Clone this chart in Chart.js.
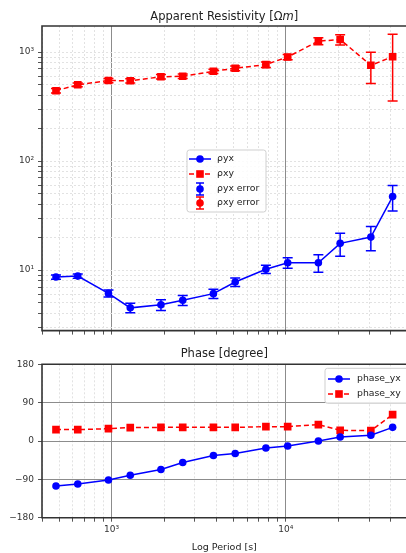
<!DOCTYPE html>
<html>
<head>
<meta charset="utf-8">
<script src="https://cdn.jsdelivr.net/npm/chart.js@4.4.0/dist/chart.umd.min.js"></script>
<style>
html, body { margin: 0; padding: 0; background: #fff; overflow: hidden; }
#wrap { position: relative; width: 406px; height: 553px; overflow: hidden; }
#rhoChart { position: absolute; left: 0; top: 0; }
#phaseChart { position: absolute; left: 0; top: 340px; }
</style>
</head>
<body>
<div id="wrap">
  <canvas id="rhoChart" width="412" height="340"></canvas>
  <canvas id="phaseChart" width="412" height="213"></canvas>
</div>
<script>
/* data */
const periods  = [480, 640, 960, 1280, 1920, 2560, 3840, 5120, 7680, 10240, 15360, 20480, 30720, 40960];
const rhoYx    = [8.64, 8.82, 6.12, 4.51, 4.81, 5.29, 6.09, 7.78, 10.2, 11.7, 11.7, 17.6, 20.1, 47.3];
const rhoYxErr = [0.4, 0.4, 0.45, 0.45, 0.55, 0.55, 0.6, 0.7, 0.9, 1.3, 2.15, 4.2, 5.0, 12.5];
const rhoXy    = [442, 501, 548, 545, 593, 600, 666, 710, 767, 901, 1259, 1302, 756, 906];
const rhoXyErr = [20, 20, 25, 25, 28, 28, 30, 35, 45, 50, 90, 140, 240, 550];
const phaseYx  = [-105.5, -100.8, -91.4, -80.4, -67, -50.6, -34.2, -29.5, -16.4, -11.7, 0, 9.4, 13.4, 32];
const phaseXy  = [26.7, 26.7, 29, 31.4, 32, 32, 32, 32, 33.7, 33.7, 38.4, 25, 24.4, 61.9];
const phaseTicks = [-180, -90, 0, 90, 180];
const rhoLegend = ['ρyx', 'ρxy', 'ρyx error', 'ρxy error'];
const phaseLegend = ['phase_yx', 'phase_xy'];

const X_MIN = 399, X_MAX = 49260;
const RHO_MIN = 2.79, RHO_MAX = 1733;

const FONT = 'DejaVu Sans';
const BLUE = '#0000ff', RED = '#ff0000';
const SUP = {'0':'⁰','1':'¹','2':'²','3':'³','4':'⁴','5':'⁵','6':'⁶','7':'⁷','8':'⁸','9':'⁹','-':'⁻'};

function isDecade(v) {
  const l = Math.log10(v);
  return Math.abs(l - Math.round(l)) < 1e-9;
}
function decadeLabel(v) {
  if (!isDecade(v)) return '';
  return '10' + String(Math.round(Math.log10(v))).split('').map(c => SUP[c]).join('');
}
// 1..9 x 10^n ticks inside the range
function logTicks(min, max) {
  const out = [];
  for (let e = Math.floor(Math.log10(min)); e <= Math.ceil(Math.log10(max)); e++) {
    for (let m = 1; m < 10; m++) {
      const v = m * Math.pow(10, e);
      if (v >= min && v <= max) out.push({ value: v });
    }
  }
  return out;
}
const pts = (ys) => periods.map((p, i) => ({ x: p, y: ys[i] }));

function xAxis(withLabels) {
  return {
    type: 'logarithmic', min: X_MIN, max: X_MAX,
    afterBuildTicks: s => { s.ticks = logTicks(X_MIN, X_MAX); },
    afterFit: s => { s.height = withLabels ? 35.3 : 6.7; },
    ticks: {
      autoSkip: false, maxRotation: 0, padding: 3,
      font: { family: FONT, size: 9 }, color: '#333',
      callback: v => withLabels ? decadeLabel(v) : ''
    },
    grid: {
      color: c => (c.tick && isDecade(c.tick.value)) ? '#8c8c8c' : '#e2e2e2',
      lineWidth: 1, tickLength: 4, tickColor: '#555'
    },
    border: { display: false, dash: c => (c.tick && isDecade(c.tick.value)) ? [] : [2, 2] },
    title: withLabels
      ? { display: true, text: 'Log Period [s]', font: { family: FONT, size: 9.5 }, color: '#222', padding: { top: 0, bottom: 0 } }
      : { display: false }
  };
}

/* frame, title, error bars, legend */
function drawFrame(chart) {
  const { ctx, chartArea: a } = chart;
  ctx.save();
  ctx.strokeStyle = '#333'; ctx.lineWidth = 1.6;
  ctx.beginPath();
  ctx.moveTo(a.right + 5, a.top); ctx.lineTo(a.left, a.top);
  ctx.lineTo(a.left, a.bottom); ctx.lineTo(a.right + 5, a.bottom);
  ctx.stroke();
  ctx.restore();
}
function drawTitle(chart, parts, y) {
  const { ctx, chartArea: a } = chart;
  ctx.save();
  let total = 0;
  parts.forEach(p => { ctx.font = (p.i ? 'italic ' : '') + '11.5px "' + FONT + '"'; p.w = ctx.measureText(p.t).width; total += p.w; });
  let x = (a.left + a.right) / 2 - total / 2;
  ctx.fillStyle = '#222'; ctx.textBaseline = 'middle'; ctx.textAlign = 'left';
  parts.forEach(p => { ctx.font = (p.i ? 'italic ' : '') + '11.5px "' + FONT + '"'; ctx.fillText(p.t, x, y); x += p.w; });
  ctx.restore();
}
function marker(ctx, x, y, style, color) {
  ctx.save();
  ctx.fillStyle = color;
  if (style === 'rect') { ctx.fillRect(x - 3.8, y - 3.8, 7.6, 7.6); }
  else { ctx.beginPath(); ctx.arc(x, y, 3.8, 0, Math.PI * 2); ctx.fill(); }
  ctx.restore();
}
function lineSample(ctx, x1, x2, y, color, dash) {
  ctx.save();
  ctx.strokeStyle = color; ctx.lineWidth = 1.5; ctx.setLineDash(dash);
  ctx.beginPath(); ctx.moveTo(x1, y); ctx.lineTo(x2, y); ctx.stroke();
  ctx.restore();
}
function errSample(ctx, x, y, color) {
  ctx.save();
  ctx.strokeStyle = color; ctx.lineWidth = 1.5;
  ctx.beginPath();
  ctx.moveTo(x, y - 6); ctx.lineTo(x, y + 6);
  ctx.moveTo(x - 4, y - 6); ctx.lineTo(x + 4, y - 6);
  ctx.moveTo(x - 4, y + 6); ctx.lineTo(x + 4, y + 6);
  ctx.stroke();
  ctx.restore();
  marker(ctx, x, y, 'circle', color);
}
function legendBox(ctx, x, y, w, h) {
  const r = 2.5;
  ctx.save();
  ctx.beginPath();
  ctx.moveTo(x + r, y); ctx.lineTo(x + w - r, y); ctx.quadraticCurveTo(x + w, y, x + w, y + r);
  ctx.lineTo(x + w, y + h - r); ctx.quadraticCurveTo(x + w, y + h, x + w - r, y + h);
  ctx.lineTo(x + r, y + h); ctx.quadraticCurveTo(x, y + h, x, y + h - r);
  ctx.lineTo(x, y + r); ctx.quadraticCurveTo(x, y, x + r, y);
  ctx.fillStyle = 'rgba(255,255,255,0.85)'; ctx.fill();
  ctx.strokeStyle = '#cfcfcf'; ctx.lineWidth = 1; ctx.stroke();
  ctx.restore();
}
function legendText(ctx, t, x, y) {
  ctx.save();
  ctx.font = '9.3px "' + FONT + '"'; ctx.fillStyle = '#222';
  ctx.textBaseline = 'middle'; ctx.textAlign = 'left';
  ctx.fillText(t, x, y);
  ctx.restore();
}

const errorBars = {
  id: 'errorBars',
  beforeDatasetsDraw(chart) {
    const ctx = chart.ctx, xs = chart.scales.x, ys = chart.scales.y;
    chart.data.datasets.forEach(ds => {
      if (!ds.err) return;
      ctx.save();
      ctx.strokeStyle = ds.errColor; ctx.lineWidth = 1.5;
      ds.data.forEach((pt, i) => {
        const x = xs.getPixelForValue(pt.x);
        const yT = ys.getPixelForValue(pt.y + ds.err[i]);
        const yB = ys.getPixelForValue(pt.y - ds.err[i]);
        ctx.beginPath();
        ctx.moveTo(x, yT); ctx.lineTo(x, yB);
        ctx.moveTo(x - 5, yT); ctx.lineTo(x + 5, yT);
        ctx.moveTo(x - 5, yB); ctx.lineTo(x + 5, yB);
        ctx.stroke();
      });
      ctx.restore();
    });
  }
};

const rhoDecor = {
  id: 'rhoDecor',
  afterDatasetsDraw(chart) { drawFrame(chart); },
  afterDraw(chart) {
    const ctx = chart.ctx;
    drawTitle(chart, [{ t: 'Apparent Resistivity [Ω' }, { t: 'm', i: true }, { t: ']' }], 17.5);
    legendBox(ctx, 187, 150, 79, 62);
    const rows = [159, 174, 189, 203];
    lineSample(ctx, 189, 211, rows[0], BLUE, []); marker(ctx, 200, rows[0], 'circle', BLUE);
    lineSample(ctx, 189, 211, rows[1], RED, [5, 3]); marker(ctx, 200, rows[1], 'rect', RED);
    errSample(ctx, 200, rows[2], BLUE);
    errSample(ctx, 200, rows[3], RED);
    rhoLegend.forEach((t, i) => legendText(ctx, t, 217, rows[i]));
  }
};

const phaseDecor = {
  id: 'phaseDecor',
  afterDatasetsDraw(chart) { drawFrame(chart); },
  afterDraw(chart) {
    const ctx = chart.ctx;
    drawTitle(chart, [{ t: 'Phase [degree]' }], 14);
    legendBox(ctx, 325, 28.3, 84, 35);
    const rows = [39, 54];
    lineSample(ctx, 328, 350, rows[0], BLUE, []); marker(ctx, 339, rows[0], 'circle', BLUE);
    lineSample(ctx, 328, 350, rows[1], RED, [5, 3]); marker(ctx, 339, rows[1], 'rect', RED);
    phaseLegend.forEach((t, i) => legendText(ctx, t, 357, rows[i]));
  }
};

new Chart(document.getElementById('rhoChart'), {
  type: 'line',
  data: {
    datasets: [
      { label: rhoLegend[0], data: pts(rhoYx), err: rhoYxErr, errColor: BLUE,
        borderColor: BLUE, backgroundColor: BLUE, borderWidth: 1.5,
        pointStyle: 'circle', pointRadius: 3.8, pointBorderWidth: 0, tension: 0 },
      { label: rhoLegend[1], data: pts(rhoXy), err: rhoXyErr, errColor: RED,
        borderColor: RED, backgroundColor: RED, borderWidth: 1.5, borderDash: [5, 3],
        pointStyle: 'rect', pointRadius: 5.4, pointBorderWidth: 0, tension: 0 }
    ]
  },
  options: {
    responsive: false, animation: false,
    layout: { padding: { top: 26, right: 3, left: 0, bottom: 0 } },
    plugins: { legend: { display: false }, tooltip: { enabled: false } },
    scales: {
      x: xAxis(false),
      y: {
        type: 'logarithmic', min: RHO_MIN, max: RHO_MAX,
        afterBuildTicks: s => { s.ticks = logTicks(RHO_MIN, RHO_MAX); },
        afterFit: s => { s.width = 42; },
        ticks: { autoSkip: false, padding: 4, font: { family: FONT, size: 9 }, color: '#333', callback: v => decadeLabel(v) },
        grid: { color: '#e2e2e2', lineWidth: 1, tickLength: 4, tickColor: '#555' },
        border: { display: false, dash: [2, 2] }
      }
    }
  },
  plugins: [errorBars, rhoDecor]
});

new Chart(document.getElementById('phaseChart'), {
  type: 'line',
  data: {
    datasets: [
      { label: phaseLegend[0], data: pts(phaseYx),
        borderColor: BLUE, backgroundColor: BLUE, borderWidth: 1.5,
        pointStyle: 'circle', pointRadius: 3.8, pointBorderWidth: 0, tension: 0 },
      { label: phaseLegend[1], data: pts(phaseXy),
        borderColor: RED, backgroundColor: RED, borderWidth: 1.5, borderDash: [5, 3],
        pointStyle: 'rect', pointRadius: 5.4, pointBorderWidth: 0, tension: 0 }
    ]
  },
  options: {
    responsive: false, animation: false,
    layout: { padding: { top: 24.3, right: 3, left: 0, bottom: 0 } },
    plugins: { legend: { display: false }, tooltip: { enabled: false } },
    scales: {
      x: xAxis(true),
      y: {
        type: 'linear', min: phaseTicks[0], max: phaseTicks[phaseTicks.length - 1],
        afterBuildTicks: s => { s.ticks = phaseTicks.map(v => ({ value: v })); },
        afterFit: s => { s.width = 42; },
        ticks: { padding: 4, font: { family: FONT, size: 9 }, color: '#333',
                 callback: v => v < 0 ? '\u2212' + Math.abs(v) : String(v) },
        grid: { color: '#8c8c8c', lineWidth: 1, tickLength: 4, tickColor: '#555' },
        border: { display: false }
      }
    }
  },
  plugins: [phaseDecor]
});
</script>
</body>
</html>
